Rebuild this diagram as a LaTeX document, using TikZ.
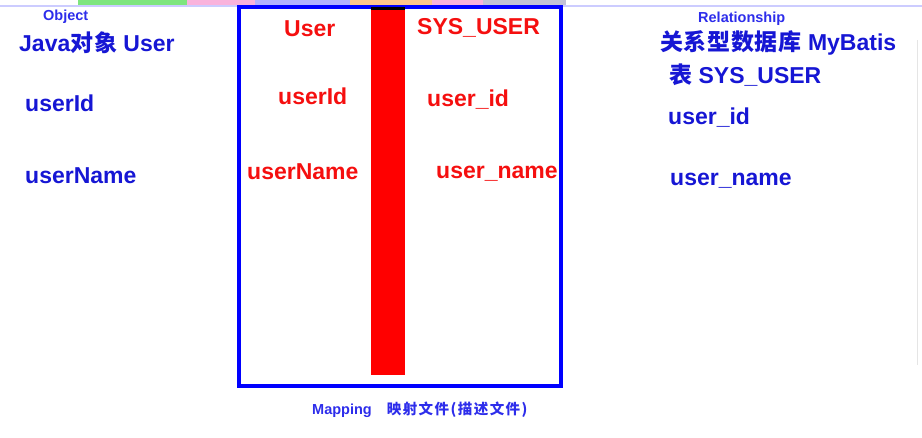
\documentclass[tikz,border=0pt]{standalone}
\usepackage{fontspec}
\setmainfont{Liberation Sans}
\newfontfamily\cjk[LetterSpace=3]{Noto Sans CJK SC}
\newfontfamily\cjkwide[LetterSpace=10]{Noto Sans CJK SC}
\newcommand{\zh}[1]{{\cjk #1}}
\definecolor{objblue}{RGB}{22,22,212}
\definecolor{lightblue}{RGB}{45,45,235}
\definecolor{mapred}{RGB}{245,15,15}

\begin{document}
\begin{tikzpicture}[x=1pt,y=-1pt,
  big/.style={anchor=base west,inner sep=0pt,font=\fontsize{23}{26}\selectfont\bfseries},
  small/.style={anchor=base west,inner sep=0pt,text=lightblue,font=\fontsize{14.5}{17}\selectfont\bfseries}]
\useasboundingbox (0,0) rectangle (922,437);
% tab strip at the top
\fill[green!45!white!90!black] (78,0) rectangle (187,5);
\fill[magenta!30] (187,0) rectangle (255,5);
\fill[blue!30] (255,0) rectangle (350,5);
\fill[orange!45] (350,0) rectangle (432,5);
\fill[magenta!30] (432,0) rectangle (483,5);
\fill[blue!20!gray!40] (483,0) rectangle (566,5);
\draw[blue!20,line width=1.5pt] (0,6) -- (922,6);
\draw[gray!20] (917,40) -- (917,365);
% mapping box
\draw[blue,line width=4pt] (239,7) rectangle (561,386);
\fill[red] (371,9) rectangle (405,375);
\fill[black] (371,7) rectangle (405,9.5);
% object side
\node[small] (obj) at (43,20) {Object};
\node[big,text=objblue] (java) at (19,51) {Java\zh{对象} User};
\node[big,text=objblue] (jid) at (25,111) {userId};
\node[big,text=objblue] (jname) at (25,183) {userName};
% mapping
\node[big,text=mapred] (muser) at (284,36) {User};
\node[big,text=mapred] (mtab) at (417,34) {SYS\_USER};
\node[big,text=mapred] (mid) at (278,104) {userId};
\node[big,text=mapred] (mcol) at (427,106) {user\_id};
\node[big,text=mapred] (mname) at (247,179) {userName};
\node[big,text=mapred] (mcolname) at (436,178) {user\_name};
\node[small] (map) at (312,414) {Mapping\hspace{15pt}{\cjkwide 映射文件(描述文件)}};
% relationship side
\node[small] (rel) at (698,22) {Relationship};
\node[big,text=objblue] (db) at (660,50) {\zh{关系型数据库} MyBatis};
\node[big,text=objblue] (tab) at (669,83) {\zh{表} SYS\_USER};
\node[big,text=objblue] (rid) at (668,124) {user\_id};
\node[big,text=objblue] (rname) at (670,185) {user\_name};
\end{tikzpicture}
\end{document}
